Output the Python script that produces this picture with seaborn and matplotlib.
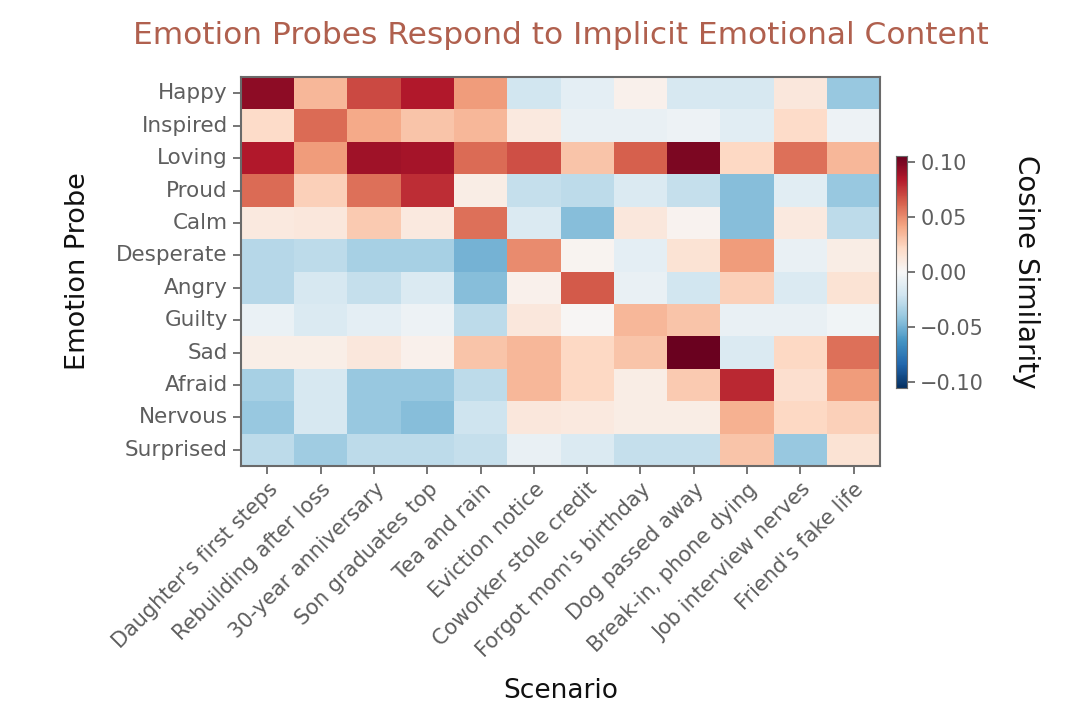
import numpy as np
import pandas as pd
import matplotlib
matplotlib.use("Agg")
import matplotlib.pyplot as plt
from matplotlib.ticker import FuncFormatter
import seaborn as sns

emotions = ["Happy", "Inspired", "Loving", "Proud", "Calm", "Desperate",
            "Angry", "Guilty", "Sad", "Afraid", "Nervous", "Surprised"]
scenarios = ["Daughter's first steps", "Rebuilding after loss", "30-year anniversary",
             "Son graduates top", "Tea and rain", "Eviction notice",
             "Coworker stole credit", "Forgot mom's birthday", "Dog passed away",
             "Break-in, phone dying", "Job interview nerves", "Friend's fake life"]

happy     = [0.095, 0.035, 0.070, 0.085, 0.045, -0.020, -0.010, 0.005, -0.018, -0.018, 0.012, -0.040]
inspired  = [0.020, 0.060, 0.040, 0.030, 0.035, 0.010, -0.008, -0.008, -0.005, -0.012, 0.020, -0.005]
loving    = [0.085, 0.045, 0.090, 0.088, 0.060, 0.068, 0.030, 0.063, 0.100, 0.022, 0.058, 0.035]
proud     = [0.060, 0.025, 0.058, 0.078, 0.008, -0.025, -0.028, -0.015, -0.025, -0.045, -0.012, -0.040]
calm      = [0.010, 0.012, 0.028, 0.010, 0.058, -0.015, -0.045, 0.012, 0.004, -0.045, 0.010, -0.028]
desperate = [-0.030, -0.028, -0.035, -0.035, -0.050, 0.050, 0.003, -0.010, 0.015, 0.045, -0.008, 0.008]
angry     = [-0.030, -0.018, -0.025, -0.015, -0.045, 0.005, 0.065, -0.008, -0.020, 0.025, -0.015, 0.015]
guilty    = [-0.007, -0.015, -0.010, -0.005, -0.028, 0.012, 0.001, 0.035, 0.030, -0.008, -0.008, -0.004]
sad       = [0.007, 0.007, 0.012, 0.005, 0.030, 0.035, 0.022, 0.030, 0.105, -0.015, 0.022, 0.058]
afraid    = [-0.035, -0.018, -0.040, -0.040, -0.028, 0.035, 0.022, 0.008, 0.028, 0.080, 0.018, 0.045]
nervous   = [-0.040, -0.018, -0.040, -0.045, -0.022, 0.012, 0.010, 0.008, 0.008, 0.038, 0.022, 0.025]
surprised = [-0.028, -0.038, -0.028, -0.028, -0.025, -0.008, -0.015, -0.025, -0.025, 0.030, -0.040, 0.015]

cbar_ticks = [-0.10, -0.05, 0.0, 0.05, 0.10]

df = pd.DataFrame([happy, inspired, loving, proud, calm, desperate, angry,
                   guilty, sad, afraid, nervous, surprised],
                  index=emotions, columns=scenarios)

sns.set_style("white")
plt.rcParams["font.family"] = ["DejaVu Sans"]

fig = plt.figure(figsize=(10.8, 7.27), dpi=100)
ax = fig.add_axes([0.223, 0.359, 0.592, 0.535])
cax = fig.add_axes([0.8296, 0.466, 0.0102, 0.32])

lim = 0.106
fmt = FuncFormatter(lambda v, _: f"{v:.2f}".replace("-", "\u2212"))
sns.heatmap(df, ax=ax, cbar_ax=cax, cmap="RdBu_r", vmin=-lim, vmax=lim, center=0,
            cbar_kws={"ticks": cbar_ticks, "format": fmt})

tick_color = "#5e5e5e"
ax.set_xticklabels(ax.get_xticklabels(), rotation=45, ha="right",
                   rotation_mode="anchor", fontsize=15, color=tick_color)
ax.set_yticklabels(ax.get_yticklabels(), rotation=0, fontsize=15.5, color=tick_color)
ax.tick_params(axis="both", which="both", length=6, width=1.2, color=tick_color,
               bottom=True, left=True)
for s in ax.spines.values():
    s.set_visible(True)
    s.set_color("#6a6a6a")
    s.set_linewidth(1.5)

ax.set_xlabel("Scenario", fontsize=19, color="#111111", labelpad=12)
ax.set_ylabel("Emotion Probe", fontsize=19.5, color="#111111", labelpad=18)
ax.set_title("Emotion Probes Respond to Implicit Emotional Content",
             fontsize=22.5, color="#b0604e", pad=24)

cax.tick_params(labelsize=15, colors=tick_color, length=6, width=1.2)
for s in cax.spines.values():
    s.set_visible(True)
    s.set_color("#6a6a6a")
cax.set_ylabel("Cosine Similarity", fontsize=20, color="#111111", rotation=270, labelpad=40)

fig.savefig("out.png", dpi=100)
